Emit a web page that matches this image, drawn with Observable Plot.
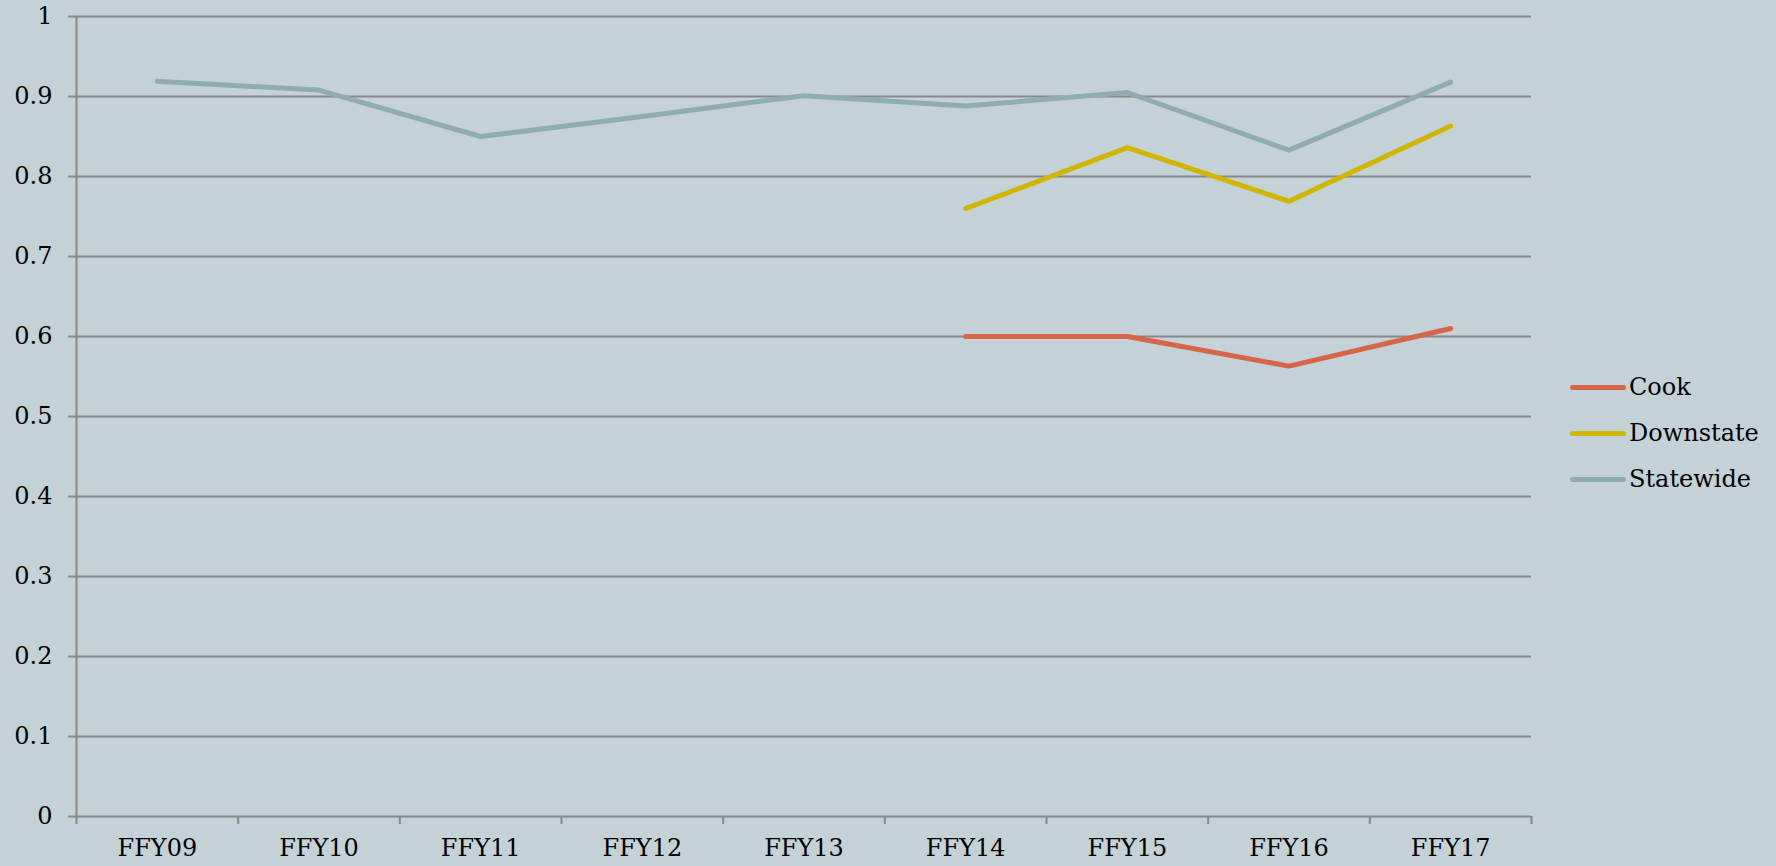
<!DOCTYPE html>
<html>
<head>
<meta charset="utf-8">
<script src="https://cdn.jsdelivr.net/npm/d3@7"></script>
<script src="https://cdn.jsdelivr.net/npm/@observablehq/plot@0.6"></script>
<style>
  html, body { margin: 0; padding: 0; background: #c4d1d7; }
  #wrap { position: relative; width: 1776px; height: 866px; overflow: hidden; }
  #legend { position: absolute; left: 1570px; top: 364px; font-family: "DejaVu Serif", serif; font-size: 24px; color: #000; }
  .item { display: flex; align-items: center; height: 46px; }
  .sw { width: 56px; height: 5px; border-radius: 3px; margin-right: 3px; }
</style>
</head>
<body>
<div id="wrap"><div id="legend"></div></div>
<script>
const categories = ["FFY09","FFY10","FFY11","FFY12","FFY13","FFY14","FFY15","FFY16","FFY17"];
const seriesNames = ["Cook","Downstate","Statewide"];
const cook      = [null, null, null, null, null, 0.600, 0.600, 0.563, 0.610];
const downstate = [null, null, null, null, null, 0.760, 0.836, 0.769, 0.863];
const statewide = [0.919, 0.908, 0.850, 0.875, 0.901, 0.888, 0.905, 0.833, 0.918];
const yTicks = [0, 0.1, 0.2, 0.3, 0.4, 0.5, 0.6, 0.7, 0.8, 0.9, 1];
const colors = ["#d6654a", "#d0b600", "#8fadad"];

const seriesValues = [cook, downstate, statewide];
const rows = [];
seriesNames.forEach((s, si) => {
  seriesValues[si].forEach((v, i) => {
    if (v != null) rows.push({series: s, i, value: v});
  });
});
const idx = categories.map((_, i) => i);
const bounds = [...idx.map(i => i - 0.5), categories.length - 0.5];

const gridColor = "#888888";
const font = "DejaVu Serif, serif";

const chart = Plot.plot({
  width: 1776,
  height: 866,
  marginLeft: 76,
  marginRight: 245,
  marginTop: 16,
  marginBottom: 50,
  style: {background: "transparent", fontFamily: font, fontSize: "24px", color: "#000"},
  x: {type: "linear", domain: [-0.5, categories.length - 0.5]},
  y: {domain: [0, 1]},
  color: {domain: seriesNames, range: colors},
  marks: [
    Plot.ruleY(yTicks, {stroke: gridColor, strokeWidth: 2}),
    Plot.axisY({ticks: yTicks, tickSize: 8, tickPadding: 16, stroke: gridColor, strokeWidth: 2, strokeOpacity: 1, tickFormat: d => String(d), label: null, fontSize: 24}),
    Plot.ruleX([-0.5], {stroke: gridColor, strokeWidth: 2}),
    Plot.axisX({ticks: bounds, tickSize: 8, tickFormat: () => "", stroke: gridColor, strokeWidth: 2, strokeOpacity: 1, label: null}),
    Plot.axisX({ticks: idx, tickSize: 0, tickPadding: 22, tickFormat: i => categories[i], label: null, fontSize: 24}),
    Plot.line(rows, {x: "i", y: "value", z: "series", stroke: "series", strokeWidth: 5, strokeLinecap: "round", strokeLinejoin: "round"})
  ]
});
document.getElementById("wrap").prepend(chart);

const legend = document.getElementById("legend");
seriesNames.forEach((s, i) => {
  const item = document.createElement("div");
  item.className = "item";
  const sw = document.createElement("div");
  sw.className = "sw";
  sw.style.background = colors[i];
  const t = document.createElement("span");
  t.textContent = s;
  item.append(sw, t);
  legend.append(item);
});
</script>
</body>
</html>
